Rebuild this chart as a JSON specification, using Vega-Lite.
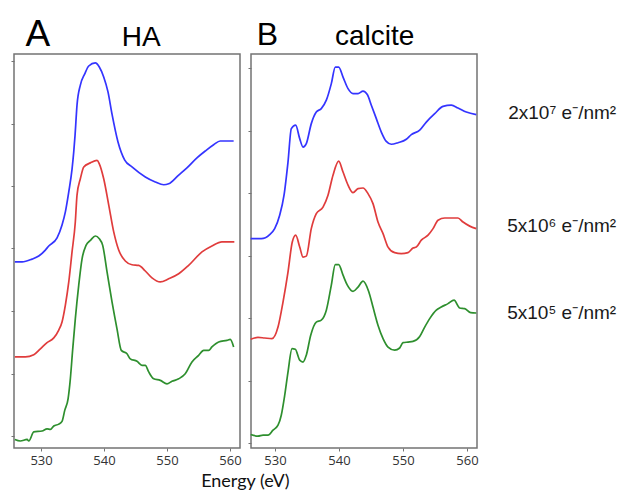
{
  "$schema": "https://vega.github.io/schema/vega-lite/v6.json",
  "autosize": {"type": "pad"},
  "padding": {"left": 9, "top": 15, "right": 4, "bottom": 4},
  "background": "white",
  "config": {
    "font": "Liberation Sans",
    "view": {"stroke": "#737373", "strokeWidth": 1.5},
    "axis": {"domain": false, "grid": false, "tickColor": "#737373", "tickSize": 3, "tickWidth": 1, "labelFont": "Open Sans", "labelFontSize": 13, "labelColor": "#333333", "labelPadding": 3, "title": null}
  },
  "title": {"text": "Energy (eV)", "orient": "bottom", "anchor": "middle", "dx": -68, "font": "Lato", "fontSize": 18, "fontWeight": "normal", "color": "#111111", "offset": 5},
  "spacing": 4,
  "datasets": {
    "A": [
      {"dose": "2x10^7", "E": 525.83, "I": 5.57}, {"dose": "2x10^7", "E": 526.98, "I": 5.57}, {"dose": "2x10^7", "E": 528.57, "I": 5.66}, {"dose": "2x10^7", "E": 529.63, "I": 5.76}, {"dose": "2x10^7", "E": 530.68, "I": 5.95}, {"dose": "2x10^7", "E": 531.22, "I": 6.08}, {"dose": "2x10^7", "E": 532.54, "I": 6.34}, {"dose": "2x10^7", "E": 533.33, "I": 6.75}, {"dose": "2x10^7", "E": 533.86, "I": 7.17}, {"dose": "2x10^7", "E": 534.40, "I": 7.81}, {"dose": "2x10^7", "E": 534.92, "I": 8.54}, {"dose": "2x10^7", "E": 535.19, "I": 9.09}, {"dose": "2x10^7", "E": 535.40, "I": 9.63}, {"dose": "2x10^7", "E": 535.71, "I": 10.59}, {"dose": "2x10^7", "E": 536.24, "I": 11.23}, {"dose": "2x10^7", "E": 536.94, "I": 11.59}, {"dose": "2x10^7", "E": 537.57, "I": 11.84}, {"dose": "2x10^7", "E": 538.62, "I": 11.94}, {"dose": "2x10^7", "E": 539.25, "I": 11.81}, {"dose": "2x10^7", "E": 539.95, "I": 11.49}, {"dose": "2x10^7", "E": 540.63, "I": 11.01}, {"dose": "2x10^7", "E": 541.27, "I": 10.30}, {"dose": "2x10^7", "E": 542.22, "I": 9.41}, {"dose": "2x10^7", "E": 543.29, "I": 8.83}, {"dose": "2x10^7", "E": 544.44, "I": 8.61}, {"dose": "2x10^7", "E": 546.56, "I": 8.29}, {"dose": "2x10^7", "E": 548.14, "I": 8.13}, {"dose": "2x10^7", "E": 549.48, "I": 8.04}, {"dose": "2x10^7", "E": 550.27, "I": 8.07}, {"dose": "2x10^7", "E": 551.86, "I": 8.35}, {"dose": "2x10^7", "E": 553.17, "I": 8.58}, {"dose": "2x10^7", "E": 554.76, "I": 8.90}, {"dose": "2x10^7", "E": 556.08, "I": 9.12}, {"dose": "2x10^7", "E": 557.41, "I": 9.32}, {"dose": "2x10^7", "E": 558.46, "I": 9.44}, {"dose": "2x10^7", "E": 560.59, "I": 9.44},
      {"dose": "5x10^6", "E": 525.83, "I": 2.53}, {"dose": "5x10^6", "E": 527.51, "I": 2.53}, {"dose": "5x10^6", "E": 528.84, "I": 2.60}, {"dose": "5x10^6", "E": 529.89, "I": 2.79}, {"dose": "5x10^6", "E": 530.95, "I": 2.99}, {"dose": "5x10^6", "E": 532.02, "I": 3.14}, {"dose": "5x10^6", "E": 532.81, "I": 3.39}, {"dose": "5x10^6", "E": 533.33, "I": 3.65}, {"dose": "5x10^6", "E": 533.86, "I": 4.19}, {"dose": "5x10^6", "E": 534.40, "I": 4.93}, {"dose": "5x10^6", "E": 534.92, "I": 5.89}, {"dose": "5x10^6", "E": 535.44, "I": 6.85}, {"dose": "5x10^6", "E": 535.71, "I": 7.71}, {"dose": "5x10^6", "E": 536.24, "I": 8.23}, {"dose": "5x10^6", "E": 536.78, "I": 8.61}, {"dose": "5x10^6", "E": 537.83, "I": 8.74}, {"dose": "5x10^6", "E": 538.89, "I": 8.82}, {"dose": "5x10^6", "E": 539.25, "I": 8.71}, {"dose": "5x10^6", "E": 539.95, "I": 8.23}, {"dose": "5x10^6", "E": 540.75, "I": 7.39}, {"dose": "5x10^6", "E": 541.54, "I": 6.53}, {"dose": "5x10^6", "E": 542.33, "I": 5.95}, {"dose": "5x10^6", "E": 543.38, "I": 5.60}, {"dose": "5x10^6", "E": 544.44, "I": 5.48}, {"dose": "5x10^6", "E": 545.51, "I": 5.46}, {"dose": "5x10^6", "E": 546.56, "I": 5.28}, {"dose": "5x10^6", "E": 547.62, "I": 5.06}, {"dose": "5x10^6", "E": 548.94, "I": 4.93}, {"dose": "5x10^6", "E": 550.27, "I": 5.03}, {"dose": "5x10^6", "E": 551.86, "I": 5.19}, {"dose": "5x10^6", "E": 553.44, "I": 5.46}, {"dose": "5x10^6", "E": 555.56, "I": 5.89}, {"dose": "5x10^6", "E": 557.14, "I": 6.08}, {"dose": "5x10^6", "E": 558.73, "I": 6.21}, {"dose": "5x10^6", "E": 560.70, "I": 6.21},
      {"dose": "5x10^5", "E": 525.83, "I": -0.11}, {"dose": "5x10^5", "E": 526.71, "I": -0.16}, {"dose": "5x10^5", "E": 527.78, "I": -0.11}, {"dose": "5x10^5", "E": 528.05, "I": -0.16}, {"dose": "5x10^5", "E": 528.84, "I": 0.13}, {"dose": "5x10^5", "E": 530.16, "I": 0.16}, {"dose": "5x10^5", "E": 530.95, "I": 0.23}, {"dose": "5x10^5", "E": 531.48, "I": 0.21}, {"dose": "5x10^5", "E": 532.02, "I": 0.32}, {"dose": "5x10^5", "E": 532.81, "I": 0.38}, {"dose": "5x10^5", "E": 533.33, "I": 0.47}, {"dose": "5x10^5", "E": 533.76, "I": 0.82}, {"dose": "5x10^5", "E": 534.29, "I": 1.19}, {"dose": "5x10^5", "E": 534.65, "I": 1.83}, {"dose": "5x10^5", "E": 535.03, "I": 2.79}, {"dose": "5x10^5", "E": 535.44, "I": 3.75}, {"dose": "5x10^5", "E": 535.98, "I": 4.82}, {"dose": "5x10^5", "E": 536.51, "I": 5.67}, {"dose": "5x10^5", "E": 537.14, "I": 6.10}, {"dose": "5x10^5", "E": 537.83, "I": 6.26}, {"dose": "5x10^5", "E": 538.62, "I": 6.40}, {"dose": "5x10^5", "E": 539.25, "I": 6.31}, {"dose": "5x10^5", "E": 539.79, "I": 6.10}, {"dose": "5x10^5", "E": 540.48, "I": 5.25}, {"dose": "5x10^5", "E": 541.27, "I": 4.29}, {"dose": "5x10^5", "E": 542.06, "I": 3.43}, {"dose": "5x10^5", "E": 542.75, "I": 2.74}, {"dose": "5x10^5", "E": 543.65, "I": 2.63}, {"dose": "5x10^5", "E": 544.17, "I": 2.47}, {"dose": "5x10^5", "E": 545.24, "I": 2.39}, {"dose": "5x10^5", "E": 546.03, "I": 2.26}, {"dose": "5x10^5", "E": 546.56, "I": 2.26}, {"dose": "5x10^5", "E": 547.10, "I": 2.05}, {"dose": "5x10^5", "E": 547.89, "I": 1.83}, {"dose": "5x10^5", "E": 548.94, "I": 1.78}, {"dose": "5x10^5", "E": 550.00, "I": 1.67}, {"dose": "5x10^5", "E": 550.79, "I": 1.75}, {"dose": "5x10^5", "E": 551.86, "I": 1.83}, {"dose": "5x10^5", "E": 552.90, "I": 1.99}, {"dose": "5x10^5", "E": 553.97, "I": 2.37}, {"dose": "5x10^5", "E": 555.03, "I": 2.58}, {"dose": "5x10^5", "E": 555.83, "I": 2.74}, {"dose": "5x10^5", "E": 556.62, "I": 2.74}, {"dose": "5x10^5", "E": 557.14, "I": 2.85}, {"dose": "5x10^5", "E": 558.21, "I": 3.01}, {"dose": "5x10^5", "E": 559.52, "I": 3.06}, {"dose": "5x10^5", "E": 560.05, "I": 3.09}, {"dose": "5x10^5", "E": 560.59, "I": 2.85}
    ],
    "B": [
      {"dose": "2x10^7", "E": 526.20, "I": 6.54}, {"dose": "2x10^7", "E": 527.86, "I": 6.54}, {"dose": "2x10^7", "E": 529.17, "I": 6.67}, {"dose": "2x10^7", "E": 529.95, "I": 6.86}, {"dose": "2x10^7", "E": 530.73, "I": 7.29}, {"dose": "2x10^7", "E": 531.41, "I": 7.93}, {"dose": "2x10^7", "E": 532.03, "I": 8.99}, {"dose": "2x10^7", "E": 532.55, "I": 10.06}, {"dose": "2x10^7", "E": 533.23, "I": 10.17}, {"dose": "2x10^7", "E": 533.86, "I": 9.74}, {"dose": "2x10^7", "E": 534.38, "I": 9.47}, {"dose": "2x10^7", "E": 534.89, "I": 9.58}, {"dose": "2x10^7", "E": 535.67, "I": 10.22}, {"dose": "2x10^7", "E": 536.45, "I": 10.59}, {"dose": "2x10^7", "E": 537.23, "I": 10.70}, {"dose": "2x10^7", "E": 538.02, "I": 10.97}, {"dose": "2x10^7", "E": 538.80, "I": 11.50}, {"dose": "2x10^7", "E": 539.42, "I": 12.03}, {"dose": "2x10^7", "E": 539.95, "I": 12.03}, {"dose": "2x10^7", "E": 540.63, "I": 11.71}, {"dose": "2x10^7", "E": 541.41, "I": 11.34}, {"dose": "2x10^7", "E": 542.19, "I": 11.18}, {"dose": "2x10^7", "E": 542.97, "I": 11.18}, {"dose": "2x10^7", "E": 543.75, "I": 11.26}, {"dose": "2x10^7", "E": 544.42, "I": 11.15}, {"dose": "2x10^7", "E": 545.05, "I": 10.81}, {"dose": "2x10^7", "E": 545.83, "I": 10.38}, {"dose": "2x10^7", "E": 546.61, "I": 9.95}, {"dose": "2x10^7", "E": 547.39, "I": 9.65}, {"dose": "2x10^7", "E": 548.17, "I": 9.56}, {"dose": "2x10^7", "E": 549.22, "I": 9.61}, {"dose": "2x10^7", "E": 550.52, "I": 9.72}, {"dose": "2x10^7", "E": 551.30, "I": 9.87}, {"dose": "2x10^7", "E": 552.61, "I": 10.01}, {"dose": "2x10^7", "E": 553.64, "I": 10.27}, {"dose": "2x10^7", "E": 554.95, "I": 10.54}, {"dose": "2x10^7", "E": 556.25, "I": 10.77}, {"dose": "2x10^7", "E": 557.55, "I": 10.81}, {"dose": "2x10^7", "E": 558.59, "I": 10.72}, {"dose": "2x10^7", "E": 559.89, "I": 10.59}, {"dose": "2x10^7", "E": 561.45, "I": 10.51},
      {"dose": "5x10^6", "E": 526.20, "I": 3.32}, {"dose": "5x10^6", "E": 527.34, "I": 3.38}, {"dose": "5x10^6", "E": 528.39, "I": 3.36}, {"dose": "5x10^6", "E": 529.53, "I": 3.34}, {"dose": "5x10^6", "E": 530.47, "I": 3.71}, {"dose": "5x10^6", "E": 531.25, "I": 4.51}, {"dose": "5x10^6", "E": 532.03, "I": 5.47}, {"dose": "5x10^6", "E": 532.70, "I": 6.43}, {"dose": "5x10^6", "E": 533.23, "I": 6.65}, {"dose": "5x10^6", "E": 533.86, "I": 6.27}, {"dose": "5x10^6", "E": 534.38, "I": 5.95}, {"dose": "5x10^6", "E": 534.89, "I": 5.98}, {"dose": "5x10^6", "E": 535.67, "I": 6.86}, {"dose": "5x10^6", "E": 536.45, "I": 7.34}, {"dose": "5x10^6", "E": 537.50, "I": 7.55}, {"dose": "5x10^6", "E": 538.28, "I": 7.93}, {"dose": "5x10^6", "E": 539.06, "I": 8.57}, {"dose": "5x10^6", "E": 539.95, "I": 9.02}, {"dose": "5x10^6", "E": 540.63, "I": 8.67}, {"dose": "5x10^6", "E": 541.41, "I": 8.25}, {"dose": "5x10^6", "E": 542.19, "I": 8.01}, {"dose": "5x10^6", "E": 542.97, "I": 8.14}, {"dose": "5x10^6", "E": 543.75, "I": 8.16}, {"dose": "5x10^6", "E": 544.53, "I": 7.98}, {"dose": "5x10^6", "E": 545.31, "I": 7.66}, {"dose": "5x10^6", "E": 546.09, "I": 7.07}, {"dose": "5x10^6", "E": 546.88, "I": 6.70}, {"dose": "5x10^6", "E": 547.66, "I": 6.27}, {"dose": "5x10^6", "E": 548.70, "I": 6.09}, {"dose": "5x10^6", "E": 549.73, "I": 6.06}, {"dose": "5x10^6", "E": 550.78, "I": 6.09}, {"dose": "5x10^6", "E": 551.56, "I": 6.24}, {"dose": "5x10^6", "E": 552.08, "I": 6.27}, {"dose": "5x10^6", "E": 552.86, "I": 6.49}, {"dose": "5x10^6", "E": 553.91, "I": 6.65}, {"dose": "5x10^6", "E": 554.69, "I": 6.86}, {"dose": "5x10^6", "E": 555.47, "I": 7.13}, {"dose": "5x10^6", "E": 556.52, "I": 7.20}, {"dose": "5x10^6", "E": 558.59, "I": 7.20}, {"dose": "5x10^6", "E": 559.38, "I": 7.07}, {"dose": "5x10^6", "E": 560.42, "I": 6.94}, {"dose": "5x10^6", "E": 561.45, "I": 6.86},
      {"dose": "5x10^5", "E": 526.20, "I": 0.27}, {"dose": "5x10^5", "E": 527.34, "I": 0.22}, {"dose": "5x10^5", "E": 528.13, "I": 0.25}, {"dose": "5x10^5", "E": 528.91, "I": 0.25}, {"dose": "5x10^5", "E": 529.69, "I": 0.41}, {"dose": "5x10^5", "E": 530.47, "I": 0.57}, {"dose": "5x10^5", "E": 530.98, "I": 0.89}, {"dose": "5x10^5", "E": 531.52, "I": 1.53}, {"dose": "5x10^5", "E": 532.03, "I": 2.27}, {"dose": "5x10^5", "E": 532.66, "I": 3.02}, {"dose": "5x10^5", "E": 533.17, "I": 3.00}, {"dose": "5x10^5", "E": 533.86, "I": 2.65}, {"dose": "5x10^5", "E": 534.38, "I": 2.59}, {"dose": "5x10^5", "E": 534.89, "I": 2.81}, {"dose": "5x10^5", "E": 535.58, "I": 3.45}, {"dose": "5x10^5", "E": 536.45, "I": 3.87}, {"dose": "5x10^5", "E": 537.23, "I": 3.93}, {"dose": "5x10^5", "E": 538.02, "I": 4.25}, {"dose": "5x10^5", "E": 538.80, "I": 5.05}, {"dose": "5x10^5", "E": 539.42, "I": 5.71}, {"dose": "5x10^5", "E": 539.95, "I": 5.71}, {"dose": "5x10^5", "E": 540.63, "I": 5.37}, {"dose": "5x10^5", "E": 541.30, "I": 5.05}, {"dose": "5x10^5", "E": 542.19, "I": 4.85}, {"dose": "5x10^5", "E": 542.97, "I": 4.99}, {"dose": "5x10^5", "E": 543.75, "I": 5.18}, {"dose": "5x10^5", "E": 544.64, "I": 4.85}, {"dose": "5x10^5", "E": 545.31, "I": 4.35}, {"dose": "5x10^5", "E": 546.09, "I": 3.77}, {"dose": "5x10^5", "E": 546.88, "I": 3.34}, {"dose": "5x10^5", "E": 547.66, "I": 3.07}, {"dose": "5x10^5", "E": 548.70, "I": 2.97}, {"dose": "5x10^5", "E": 549.48, "I": 3.04}, {"dose": "5x10^5", "E": 550.00, "I": 3.21}, {"dose": "5x10^5", "E": 550.78, "I": 3.23}, {"dose": "5x10^5", "E": 551.56, "I": 3.25}, {"dose": "5x10^5", "E": 552.61, "I": 3.41}, {"dose": "5x10^5", "E": 553.39, "I": 3.71}, {"dose": "5x10^5", "E": 554.17, "I": 3.98}, {"dose": "5x10^5", "E": 555.20, "I": 4.25}, {"dose": "5x10^5", "E": 555.98, "I": 4.35}, {"dose": "5x10^5", "E": 557.03, "I": 4.46}, {"dose": "5x10^5", "E": 557.97, "I": 4.57}, {"dose": "5x10^5", "E": 558.86, "I": 4.32}, {"dose": "5x10^5", "E": 559.64, "I": 4.30}, {"dose": "5x10^5", "E": 560.58, "I": 4.17}, {"dose": "5x10^5", "E": 561.45, "I": 4.16}
    ],
    "labels": [
      {"label": "2x10⁷ e⁻/nm²", "level": 10.37},
      {"label": "5x10⁶ e⁻/nm²", "level": 6.75},
      {"label": "5x10⁵ e⁻/nm²", "level": 3.98}
    ]
  },
  "hconcat": [
    {
      "width": 226,
      "height": 394,
      "layer": [
        {
          "data": {"name": "A"},
          "mark": {"type": "line", "strokeWidth": 1.7, "interpolate": "monotone"},
          "encoding": {
            "x": {"field": "E", "type": "quantitative", "scale": {"domain": [525.7, 561.6], "nice": false, "zero": false}, "axis": {"values": [530, 540, 550, 560]}},
            "y": {"field": "I", "type": "quantitative", "scale": {"domain": [-0.384, 12.224], "nice": false, "zero": false}, "axis": {"values": [0, 1, 2, 3, 4, 5, 6, 7, 8, 9, 10, 11, 12], "labels": false}},
            "color": {"field": "dose", "type": "nominal", "scale": {"domain": ["2x10^7", "5x10^6", "5x10^5"], "range": ["#3434ff", "#e03c3c", "#2e8f2e"]}, "legend": null}
          }
        },
        {
          "data": {"values": [{}]},
          "mark": {"type": "text", "text": "A", "fontSize": 37, "baseline": "alphabetic", "align": "center", "color": "#000000"},
          "encoding": {"x": {"datum": 529.5}, "y": {"datum": 12.47}}
        },
        {
          "data": {"values": [{}]},
          "mark": {"type": "text", "text": "HA", "fontSize": 28, "baseline": "alphabetic", "align": "center", "color": "#000000"},
          "encoding": {"x": {"datum": 545.9}, "y": {"datum": 12.47}}
        }
      ]
    },
    {
      "width": 226,
      "height": 394,
      "layer": [
        {
          "data": {"name": "B"},
          "mark": {"type": "line", "strokeWidth": 1.7, "interpolate": "monotone"},
          "encoding": {
            "x": {"field": "E", "type": "quantitative", "scale": {"domain": [526.25, 561.56], "nice": false, "zero": false}, "axis": {"values": [530, 540, 550, 560]}},
            "y": {"field": "I", "type": "quantitative", "scale": {"domain": [-0.16, 12.448], "nice": false, "zero": false}, "axis": {"values": [0, 1, 2, 3, 4, 5, 6, 7, 8, 9, 10, 11, 12], "labels": false}},
            "color": {"field": "dose", "type": "nominal", "scale": {"domain": ["2x10^7", "5x10^6", "5x10^5"], "range": ["#3434ff", "#e03c3c", "#2e8f2e"]}, "legend": null}
          }
        },
        {
          "data": {"values": [{}]},
          "mark": {"type": "text", "text": "B", "fontSize": 32, "baseline": "alphabetic", "align": "center", "color": "#000000"},
          "encoding": {"x": {"datum": 528.83}, "y": {"datum": 12.73}}
        },
        {
          "data": {"values": [{}]},
          "mark": {"type": "text", "text": "calcite", "fontSize": 28, "baseline": "alphabetic", "align": "center", "color": "#000000"},
          "encoding": {"x": {"datum": 545.58}, "y": {"datum": 12.73}}
        },
        {
          "data": {"name": "labels"},
          "mark": {"type": "text", "fontSize": 19, "baseline": "alphabetic", "align": "right", "color": "#1a1a1a"},
          "encoding": {"x": {"datum": 583.3}, "y": {"field": "level", "type": "quantitative"}, "text": {"field": "label"}}
        }
      ]
    }
  ]
}
